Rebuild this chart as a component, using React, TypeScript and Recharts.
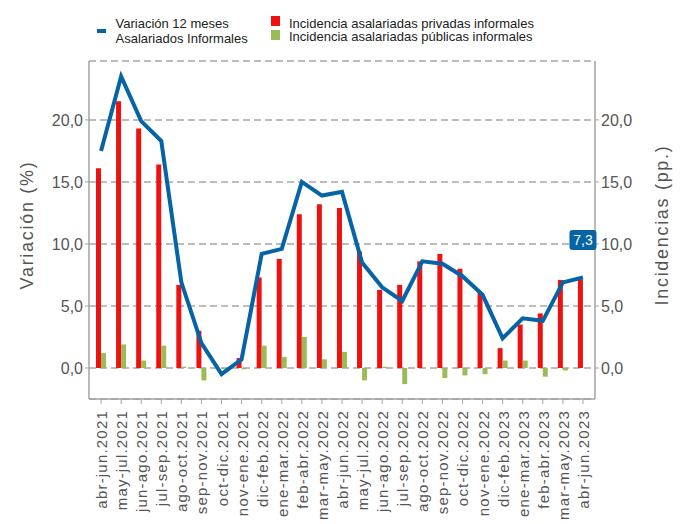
import React from 'react';
import { ComposedChart, Bar, Line, XAxis, YAxis, CartesianGrid, LabelList, Label } from 'recharts';

const categories = [
  'abr-jun.2021', 'may-jul.2021', 'jun-ago.2021', 'jul-sep.2021', 'ago-oct.2021', 'sep-nov.2021',
  'oct-dic.2021', 'nov-ene.2021', 'dic-feb.2022', 'ene-mar.2022', 'feb-abr.2022', 'mar-may.2022',
  'abr-jun.2022', 'may-jul.2022', 'jun-ago.2022', 'jul-sep.2022', 'ago-oct.2022', 'sep-nov.2022',
  'oct-dic.2022', 'nov-ene.2022', 'dic-feb.2023', 'ene-mar.2023', 'feb-abr.2023', 'mar-may.2023',
  'abr-jun.2023',
];

// Variación 12 meses, asalariados informales (%)
const variacion = [17.5, 23.5, 19.9, 18.3, 6.9, 2.0, -0.5, 0.7, 9.2, 9.6, 15.0, 13.9, 14.2, 8.5, 6.5, 5.4, 8.6, 8.4, 7.4, 5.9, 2.4, 4.0, 3.8, 6.9, 7.3];
// Incidencias (pp.)
const privadas = [16.1, 21.5, 19.3, 16.4, 6.7, 3.0, 0.0, 0.8, 7.3, 8.8, 12.4, 13.2, 12.9, 9.4, 6.3, 6.7, 8.6, 9.2, 8.0, 6.1, 1.6, 3.5, 4.4, 7.1, 7.1];
const publicas = [1.2, 1.9, 0.6, 1.8, 0.1, -1.0, -0.1, -0.1, 1.8, 0.9, 2.5, 0.7, 1.3, -1.0, 0.1, -1.3, 0.0, -0.8, -0.6, -0.5, 0.6, 0.6, -0.7, -0.2, 0.0];

const yTicks = [0, 5, 10, 15, 20];

const data = categories.map((name, i) => ({
  name,
  variacion: variacion[i],
  privadas: privadas[i],
  publicas: publicas[i],
}));

const BLUE = '#0563A6';
const RED = '#EE1111';
const GREEN = '#9BBB59';
const AXIS = '#a3a3a3';
const TEXT = '#555555';
const FONT = '"Liberation Sans", Arial, sans-serif';

const fmt = (v: number) => v.toFixed(1).replace('.', ',');

const XTick: React.FC<any> = ({ x, y, payload }) => (
  <text
    x={x}
    y={y}
    dy={6}
    transform={`rotate(-90, ${x}, ${y})`}
    textAnchor="end"
    fill={TEXT}
    fontSize={15}
    letterSpacing={1.2}
    fontFamily={FONT}
  >
    {payload.value}
  </text>
);

const LastLabel: React.FC<any> = ({ x, y, index, value }) => {
  if (index !== categories.length - 1) return null;
  return (
    <g>
      <rect x={x - 13.5} y={y - 47.5} width={27} height={20} rx={3} fill={BLUE} />
      <text x={x} y={y - 37.5} dy="0.35em" textAnchor="middle" fill="#fff" fontSize={14} fontFamily={FONT}>
        {fmt(value)}
      </text>
    </g>
  );
};

const AxisTitle: React.FC<any> = ({ viewBox, value, side }) => {
  const cy = viewBox.y + viewBox.height / 2 - 5;
  const x = side === 'left' ? 33 : 668;
  return (
    <text
      x={x}
      y={cy}
      transform={`rotate(-90, ${x}, ${cy})`}
      textAnchor="middle"
      fill={TEXT}
      fontSize={18}
      letterSpacing={1.7}
      fontFamily={FONT}
    >
      {value}
    </text>
  );
};

const ChartLegend = () => (
  <svg width={681} height={50} style={{ position: 'absolute', left: 0, top: 0 }}>
    <g fontFamily={FONT} fontSize={13} fill="#222">
      <rect x={97} y={29} width={9} height={4} fill={BLUE} />
      <text x={115.5} y={28.3}>Variación 12 meses</text>
      <text x={115.5} y={43.3}>Asalariados Informales</text>
      <rect x={271} y={16} width={9} height={10} fill={RED} />
      <text x={289} y={27.5}>Incidencia asalariadas privadas informales</text>
      <rect x={271} y={30} width={9} height={10} fill={GREEN} />
      <text x={289} y={41.2}>Incidencia asalariadas públicas informales</text>
    </g>
  </svg>
);

const axisLineStyle = { stroke: AXIS, strokeWidth: 1.5 };

const App: React.FC = () => {
  return (
    <div style={{ position: 'absolute', left: 0, top: 0, width: 681, height: 524, background: '#fff', fontFamily: FONT }}>
      <ComposedChart
        width={681}
        height={524}
        data={data}
        margin={{ top: 61, right: 0, left: 0, bottom: 0 }}
        barSize={5}
        barGap={0}
      >
        <CartesianGrid yAxisId="left" vertical={false} strokeDasharray="7 4" stroke="#a6a6a6" strokeWidth={1.5} />
        <XAxis
          dataKey="name"
          interval={0}
          height={125}
          padding={{ left: 2, right: 2 }}
          tick={<XTick />}
          tickSize={5}
          tickMargin={6}
          axisLine={axisLineStyle}
          tickLine={{ stroke: AXIS }}
        />
        <YAxis
          yAxisId="left"
          width={89}
          domain={[-2.5, 24.75]}
          ticks={yTicks}
          allowDataOverflow
          tickFormatter={fmt}
          tickSize={4}
          tickMargin={2}
          tick={{ fill: TEXT, fontSize: 16, fontFamily: FONT }}
          axisLine={axisLineStyle}
          tickLine={{ stroke: AXIS }}
        >
          <Label content={<AxisTitle side="left" value="Variación (%)" />} />
        </YAxis>
        <YAxis
          yAxisId="right"
          orientation="right"
          width={86}
          domain={[-2.5, 24.75]}
          ticks={yTicks}
          allowDataOverflow
          tickFormatter={fmt}
          tickSize={4}
          tickMargin={2}
          tick={{ fill: TEXT, fontSize: 16, fontFamily: FONT }}
          axisLine={axisLineStyle}
          tickLine={{ stroke: AXIS }}
        >
          <Label content={<AxisTitle side="right" value="Incidencias (pp.)" />} />
        </YAxis>
        <Bar yAxisId="right" dataKey="privadas" fill={RED} isAnimationActive={false} />
        <Bar yAxisId="right" dataKey="publicas" fill={GREEN} isAnimationActive={false} />
        <Line
          yAxisId="left"
          type="linear"
          dataKey="variacion"
          stroke={BLUE}
          strokeWidth={4}
          dot={false}
          activeDot={false}
          isAnimationActive={false}
        >
          <LabelList dataKey="variacion" content={<LastLabel />} />
        </Line>
      </ComposedChart>
      <ChartLegend />
    </div>
  );
};

export default App;
